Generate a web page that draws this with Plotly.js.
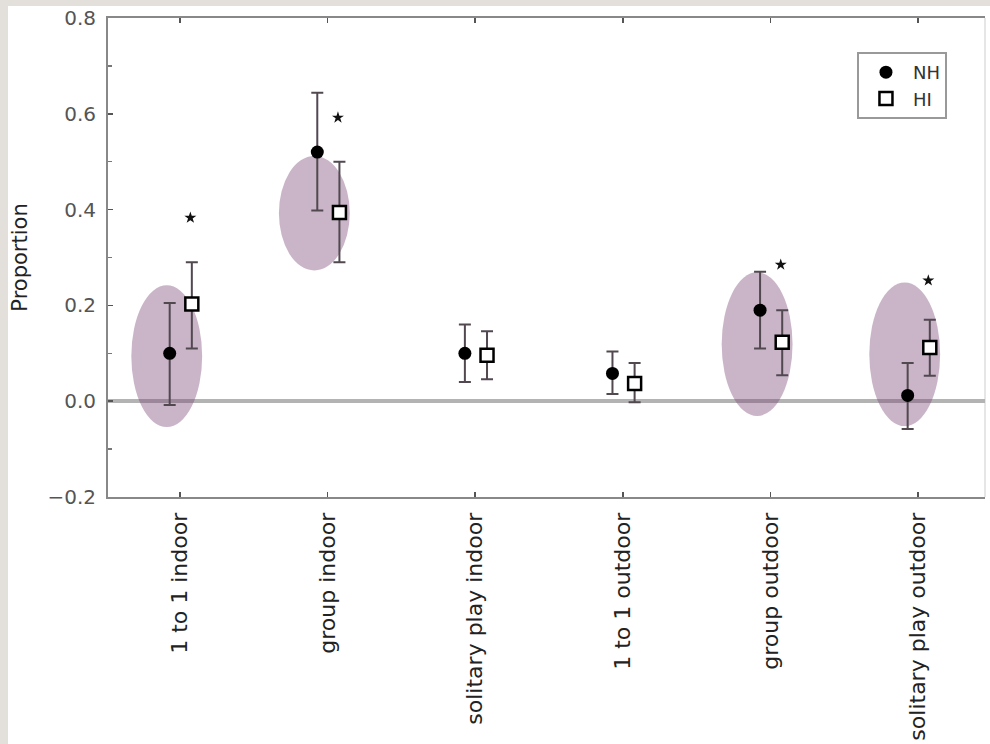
<!DOCTYPE html>
<html>
<head>
<meta charset="utf-8">
<script src="https://cdn.plot.ly/plotly-3.0.1.min.js"></script>
<style>
  html, body { margin: 0; padding: 0; background: #e3e0db; width: 990px; height: 744px; overflow: hidden; }
  #chart { position: absolute; left: 8px; top: 6px; width: 982px; height: 738px; background: #ffffff; }
</style>
</head>
<body>
<div id="chart"></div>
<script>
// ---- data ----
const categories = ["1 to 1 indoor", "group indoor", "solitary play indoor", "1 to 1 outdoor", "group outdoor", "solitary play outdoor"];
const nhMean  = [0.100, 0.520, 0.100, 0.058, 0.190, 0.012];
const nhUpper = [0.205, 0.644, 0.160, 0.104, 0.270, 0.080];
const nhLower = [-0.008, 0.398, 0.040, 0.015, 0.110, -0.058];
const hiMean  = [0.203, 0.394, 0.096, 0.037, 0.123, 0.112];
const hiUpper = [0.290, 0.500, 0.146, 0.080, 0.190, 0.170];
const hiLower = [0.110, 0.290, 0.046, -0.002, 0.054, 0.053];
// significance stars (category index, y value)
const starCats = [0, 1, 4, 5];
const starY    = [0.383, 0.592, 0.285, 0.252];
// highlighted categories (ellipse y extent)
const ellipseCats = [0, 1, 4, 5];
const ellipseY0   = [-0.054, 0.273, -0.031, -0.052];
const ellipseY1   = [0.242, 0.512, 0.269, 0.248];

const idx = categories.map((c, i) => i);
const nhOff = -0.07, hiOff = 0.08;

const errColor = '#514850';

const traceNH = {
  type: 'scatter', mode: 'markers', name: 'NH',
  x: idx.map(i => i + nhOff), y: nhMean,
  marker: { symbol: 'circle', size: 13, color: '#000000' },
  error_y: { type: 'data', symmetric: false,
    array: nhMean.map((m, i) => nhUpper[i] - m),
    arrayminus: nhMean.map((m, i) => m - nhLower[i]),
    color: errColor, thickness: 2, width: 6 },
  hoverinfo: 'skip'
};
const traceHI = {
  type: 'scatter', mode: 'markers', name: 'HI',
  x: idx.map(i => i + hiOff), y: hiMean,
  marker: { symbol: 'square', size: 13, color: '#ffffff', line: { color: '#000000', width: 2.5 } },
  error_y: { type: 'data', symmetric: false,
    array: hiMean.map((m, i) => hiUpper[i] - m),
    arrayminus: hiMean.map((m, i) => m - hiLower[i]),
    color: errColor, thickness: 2, width: 6 },
  hoverinfo: 'skip'
};
const traceStars = {
  type: 'scatter', mode: 'markers', showlegend: false,
  x: starCats.map(i => i + 0.07), y: starY,
  marker: { symbol: 'star', size: 9, color: '#111111' },
  hoverinfo: 'skip'
};

const shapes = ellipseCats.map((c, k) => ({
  type: 'circle', xref: 'x', yref: 'y', layer: 'between',
  x0: c - 0.33, x1: c + 0.15, y0: ellipseY0[k], y1: ellipseY1[k],
  fillcolor: 'rgba(120,70,115,0.4)', line: { width: 0 }
}));
// faint right frame
shapes.push({ type: 'line', xref: 'paper', yref: 'paper', x0: 1, x1: 1, y0: 0, y1: 1,
  line: { color: '#e6e6e6', width: 2 }, layer: 'below' });

const layout = {
  width: 982, height: 738,
  margin: { l: 100, r: 5, t: 12, b: 247 },
  paper_bgcolor: '#ffffff', plot_bgcolor: '#ffffff',
  font: { family: 'DejaVu Sans, sans-serif', color: '#333333' },
  showlegend: true,
  legend: {
    x: 0.854, y: 0.929, xanchor: 'left', yanchor: 'top',
    bgcolor: '#ffffff', bordercolor: '#999999', borderwidth: 2,
    font: { size: 18, color: '#333333', family: 'DejaVu Sans, sans-serif' },
    itemwidth: 44, tracegroupgap: 0
  },
  xaxis: {
    range: [-0.488, 5.454],
    tickmode: 'array', tickvals: idx, ticktext: categories,
    tickangle: -90,
    tickfont: { size: 22, color: '#222222' },
    ticks: 'inside', ticklen: 5, tickwidth: 1.5, tickcolor: '#555555',
    showline: true, linecolor: '#888888', linewidth: 2, mirror: 'ticks',
    showgrid: false, zeroline: false,
    ticklabelstandoff: 5
  },
  yaxis: {
    range: [-0.2, 0.8],
    tickmode: 'linear', tick0: -0.2, dtick: 0.2, tickformat: '.1f',
    tickfont: { size: 20, color: '#555555' },
    ticks: 'inside', ticklen: 5, tickwidth: 1.5, tickcolor: '#555555',
    minor: { dtick: 0.1, ticks: 'inside', ticklen: 4, tickcolor: '#777777' },
    showline: true, linecolor: '#888888', linewidth: 2,
    showgrid: false,
    zeroline: true, zerolinecolor: '#b3b3b3', zerolinewidth: 4,
    ticklabelstandoff: 6,
    title: { text: 'Proportion', font: { size: 21, color: '#222222' }, standoff: 18 }
  },
  shapes: shapes
};

Plotly.newPlot('chart', [traceNH, traceHI, traceStars], layout, { staticPlot: true, displayModeBar: false });
</script>
</body>
</html>
